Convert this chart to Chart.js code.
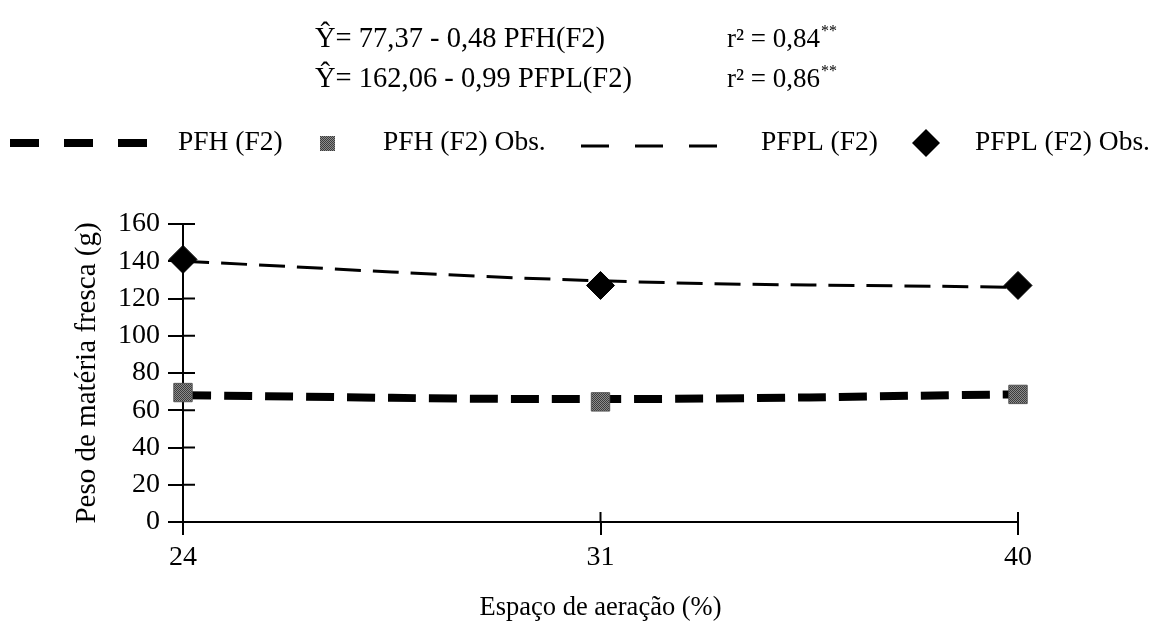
<!DOCTYPE html>
<html>
<head>
<meta charset="utf-8">
<script src="https://cdn.jsdelivr.net/npm/chart.js@4/dist/chart.umd.min.js"></script>
<style>
  html, body { margin: 0; padding: 0; background: #fff; }
  #wrap { width: 1164px; height: 626px; }
</style>
</head>
<body>
<div id="wrap"><canvas id="c" width="1164" height="626"></canvas></div>
<script>
// Aeration space categories (%)
const aeration = ['24', '31', '40'];
// Fitted curves and observed means, fresh matter weight (g)
const pfhFit  = [68, 66, 68.5];
const pfhObs  = [69.5, 64.5, 68.5];
const pfplFit = [140, 129.5, 126];
const pfplObs = [141, 127, 127];
// Y axis range and step
const yMin = 0, yMax = 160, yStep = 20;

const eqLines = [
  { eq: '\u0176= 77,37 - 0,48 PFH(F2)',   r2: 'r\u00B2 = 0,84' },
  { eq: '\u0176= 162,06 - 0,99 PFPL(F2)', r2: 'r\u00B2 = 0,86' }
];
const legendNames = ['PFH (F2)', 'PFH (F2) Obs.', 'PFPL (F2)', 'PFPL (F2) Obs.'];

const FONT = "'Liberation Serif', 'Times New Roman', serif";

// dithered grey fill for the PFH observation squares
function greyPattern() {
  const p = document.createElement('canvas');
  p.width = 2; p.height = 2;
  const g = p.getContext('2d');
  g.fillStyle = '#8c8c8c'; g.fillRect(0, 0, 2, 2);
  g.fillStyle = '#3c3c3c'; g.fillRect(0, 0, 1, 1); g.fillRect(1, 1, 1, 1);
  return g.createPattern(p, 'repeat');
}
const ctx = document.getElementById('c').getContext('2d');
const squareFill = greyPattern();

const decor = {
  id: 'decor',
  afterDraw(chart) {
    const c = chart.ctx;
    const xs = chart.scales.x, ys = chart.scales.y;
    const area = chart.chartArea;
    c.save();
    c.strokeStyle = '#000';
    c.lineWidth = 2;
    c.setLineDash([]);
    // tick stubs reaching into the plot
    ys.ticks.forEach(t => {
      const y = ys.getPixelForValue(t.value);
      c.beginPath(); c.moveTo(area.left, y); c.lineTo(area.left + 12, y); c.stroke();
    });
    xs.ticks.forEach((t, i) => {
      if (i === 0) return;
      const x = xs.getPixelForTick(i);
      c.beginPath(); c.moveTo(x, area.bottom - 10); c.lineTo(x, area.bottom); c.stroke();
    });

    // regression equations
    c.fillStyle = '#000';
    c.textBaseline = 'middle';
    c.textAlign = 'left';
    eqLines.forEach((l, i) => {
      const y = 40 + i * 40;
      c.font = '28.5px ' + FONT;
      c.fillText(l.eq, 315, y);
      c.font = '27px ' + FONT;
      c.fillText(l.r2, 727, y);
      const w = c.measureText(l.r2).width;
      c.font = '16px ' + FONT;
      c.fillText('**', 727 + w + 1, y - 8);
    });

    // legend
    const ly = 143;
    c.font = '27.5px ' + FONT;
    c.lineCap = 'butt';
    // PFH fitted
    c.lineWidth = 8;
    c.setLineDash([29, 25]);
    c.beginPath(); c.moveTo(10, ly); c.lineTo(150, ly); c.stroke();
    c.setLineDash([]);
    c.fillText(legendNames[0], 178, ly);
    // PFH observed
    c.fillStyle = squareFill;
    c.fillRect(320, ly - 7, 15, 15);
    c.fillStyle = '#000';
    c.fillText(legendNames[1], 383, ly);
    // PFPL fitted
    c.lineWidth = 3;
    c.setLineDash([28, 26]);
    c.beginPath(); c.moveTo(581, ly + 3); c.lineTo(718, ly + 3); c.stroke();
    c.setLineDash([]);
    c.fillText(legendNames[2], 761, ly);
    // PFPL observed
    c.beginPath();
    c.moveTo(926, ly - 14); c.lineTo(940, ly); c.lineTo(926, ly + 14); c.lineTo(912, ly);
    c.closePath(); c.fill();
    c.fillText(legendNames[3], 975, ly);
    c.restore();
  }
};

new Chart(ctx, {
  type: 'line',
  data: {
    labels: aeration,
    datasets: [
      {
        label: legendNames[1], data: pfhObs, showLine: false, order: 0,
        pointStyle: 'rect', pointRadius: 13, pointBackgroundColor: squareFill,
        pointBorderColor: '#555', pointBorderWidth: 1
      },
      {
        label: legendNames[3], data: pfplObs, showLine: false, order: 0,
        pointStyle: 'rectRot', pointRadius: 14, pointBackgroundColor: '#000',
        pointBorderColor: '#000', pointBorderWidth: 1
      },
      {
        label: legendNames[0], data: pfhFit, order: 1,
        borderColor: '#000', borderWidth: 8, borderDash: [28, 13],
        tension: 0.4, pointRadius: 0, fill: false
      },
      {
        label: legendNames[2], data: pfplFit, order: 1,
        borderColor: '#000', borderWidth: 3, borderDash: [26, 12],
        tension: 0.4, pointRadius: 0, fill: false
      }
    ]
  },
  options: {
    responsive: false,
    animation: false,
    devicePixelRatio: 1,
    layout: { padding: { top: 224, right: 146, left: 0, bottom: 0 } },
    plugins: { legend: { display: false }, tooltip: { enabled: false } },
    scales: {
      x: {
        type: 'category',
        offset: false,
        grid: { drawOnChartArea: false, color: '#000', lineWidth: 2, tickLength: 13 },
        border: { color: '#000', width: 2 },
        ticks: { color: '#000', font: { family: FONT, size: 28 }, padding: 6, maxRotation: 0 },
        title: {
          display: true, text: 'Espaço de aeração (%)', color: '#000',
          font: { family: FONT, size: 26.5 }, padding: { top: 0, bottom: 2 }
        },
        afterFit(s) { s.height = 104; s.paddingLeft = 0; s.paddingRight = 0; }
      },
      y: {
        min: yMin, max: yMax,
        grid: { drawOnChartArea: false, color: '#000', lineWidth: 2, tickLength: 15 },
        border: { color: '#000', width: 2 },
        ticks: { stepSize: yStep, color: '#000', font: { family: FONT, size: 28 }, padding: 8 },
        title: {
          display: true, text: 'Peso de matéria fresca (g)', color: '#000',
          font: { family: FONT, size: 29 }, padding: { top: 70, bottom: 0 }
        },
        afterFit(s) { s.width = 183; s.paddingTop = 0; s.paddingBottom = 0; }
      }
    }
  },
  plugins: [decor]
});
</script>
</body>
</html>
